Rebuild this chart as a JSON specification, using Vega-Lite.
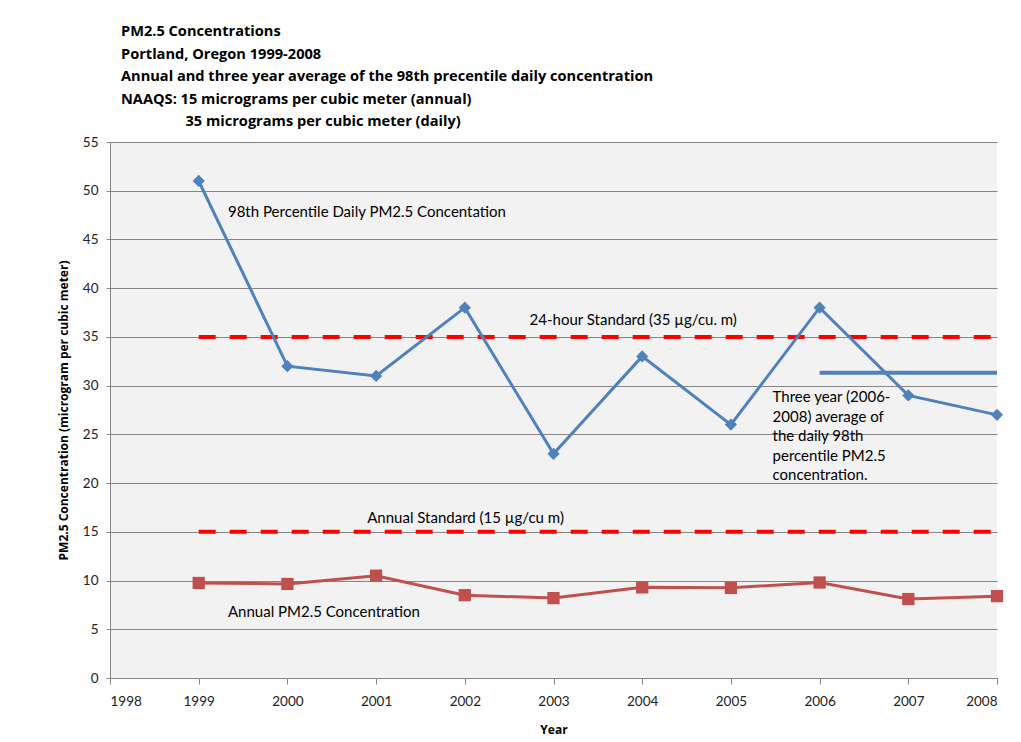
{
  "$schema": "https://vega.github.io/schema/vega-lite/v6.json",
  "autosize": {"type": "none"},
  "width": 887,
  "height": 536,
  "padding": {"left": 110, "top": 142, "right": 24, "bottom": 64},
  "background": "white",
  "title": {
    "text": [
      "PM2.5 Concentrations",
      "Portland, Oregon 1999-2008",
      "Annual and three year average of the 98th precentile daily concentration",
      "NAAQS: 15 micrograms per cubic meter (annual)",
      "\u200b\u00a0\u00a0\u00a0\u00a0\u00a0\u00a0\u00a0\u00a0\u00a0\u00a0\u00a0\u00a0\u00a0\u00a0\u00a0\u00a0\u00a035 micrograms per cubic meter (daily)"
    ],
    "anchor": "start",
    "frame": "group",
    "dx": 11,
    "offset": 6,
    "font": "Open Sans",
    "fontSize": 14.6,
    "fontWeight": "bold",
    "lineHeight": 22.5,
    "color": "black"
  },
  "datasets": {
    "series": [
      {"year": 1999, "daily98": 51, "annual": 9.75},
      {"year": 2000, "daily98": 32, "annual": 9.65},
      {"year": 2001, "daily98": 31, "annual": 10.5},
      {"year": 2002, "daily98": 38, "annual": 8.5},
      {"year": 2003, "daily98": 23, "annual": 8.2},
      {"year": 2004, "daily98": 33, "annual": 9.3},
      {"year": 2005, "daily98": 26, "annual": 9.25},
      {"year": 2006, "daily98": 38, "annual": 9.8},
      {"year": 2007, "daily98": 29, "annual": 8.1},
      {"year": 2008, "daily98": 27, "annual": 8.4}
    ],
    "standards": [
      {"name": "24-hour", "value": 35, "start": 1999, "end": 2008},
      {"name": "annual", "value": 15, "start": 1999, "end": 2008}
    ],
    "average": [
      {"start": 2006, "end": 2008, "value": 31.33}
    ],
    "notes": [
      {"label": "98th Percentile Daily PM2.5 Concentation", "x": 1999.33, "y": 47.8},
      {"label": "24-hour Standard (35 \u00b5g/cu. m)", "x": 2002.73, "y": 36.7},
      {"label": "Annual Standard (15 \u00b5g/cu m)", "x": 2000.9, "y": 16.4},
      {"label": "Annual PM2.5 Concentration", "x": 1999.33, "y": 6.8}
    ],
    "avgNote": [
      {"label": "Three year (2006-\n2008) average of\nthe daily 98th\npercentile PM2.5\nconcentration.", "x": 2005.47, "y": 29.55}
    ]
  },
  "config": {
    "view": {"fill": "#f2f2f2", "stroke": null},
    "font": "Lato",
    "axis": {
      "labelFont": "Lato",
      "labelFontSize": 13.5,
      "labelColor": "#222222",
      "titleFont": "Open Sans",
      "titleFontSize": 12,
      "titleFontWeight": "bold",
      "titleColor": "black",
      "domainColor": "#868686",
      "tickColor": "#868686",
      "gridColor": "#868686",
      "gridWidth": 1
    }
  },
  "encoding": {
    "x": {
      "type": "quantitative",
      "scale": {"domain": [1998, 2008], "nice": false, "zero": false},
      "axis": {
        "title": "Year",
        "format": "d",
        "values": [1998, 1999, 2000, 2001, 2002, 2003, 2004, 2005, 2006, 2007, 2008],
        "grid": false,
        "tickSize": 6,
        "labelPadding": 10,
        "titlePadding": 17
      }
    },
    "y": {
      "type": "quantitative",
      "scale": {"domain": [0, 55], "nice": false},
      "axis": {
        "title": "PM2.5 Concentration (microgram per cubic meter)",
        "values": [0, 5, 10, 15, 20, 25, 30, 35, 40, 45, 50, 55],
        "grid": true,
        "tickSize": 4,
        "labelPadding": 8,
        "titlePadding": 12
      }
    }
  },
  "layer": [
    {
      "data": {"name": "standards"},
      "mark": {"type": "rule", "color": "#ff0000", "strokeWidth": 4, "strokeDash": [17, 14]},
      "encoding": {
        "x": {"field": "start"},
        "x2": {"field": "end"},
        "y": {"field": "value"}
      }
    },
    {
      "data": {"name": "series"},
      "mark": {"type": "line", "color": "#4f81bd", "strokeWidth": 3,
               "point": {"shape": "diamond", "size": 150, "filled": true, "color": "#4f81bd", "opacity": 1}},
      "encoding": {
        "x": {"field": "year"},
        "y": {"field": "daily98"}
      }
    },
    {
      "data": {"name": "series"},
      "mark": {"type": "line", "color": "#c0504d", "strokeWidth": 3,
               "point": {"shape": "square", "size": 150, "filled": true, "color": "#c0504d", "opacity": 1}},
      "encoding": {
        "x": {"field": "year"},
        "y": {"field": "annual"}
      }
    },
    {
      "data": {"name": "average"},
      "mark": {"type": "rule", "color": "#4f81bd", "strokeWidth": 4},
      "encoding": {
        "x": {"field": "start"},
        "x2": {"field": "end"},
        "y": {"field": "value"}
      }
    },
    {
      "data": {"name": "notes"},
      "mark": {"type": "text", "align": "left", "baseline": "middle", "font": "Lato", "fontSize": 15, "color": "black"},
      "encoding": {
        "x": {"field": "x"},
        "y": {"field": "y"},
        "text": {"field": "label"}
      }
    },
    {
      "data": {"name": "avgNote"},
      "mark": {"type": "text", "align": "left", "baseline": "top", "font": "Lato", "fontSize": 15, "color": "black", "lineBreak": "\n", "lineHeight": 19.5},
      "encoding": {
        "x": {"field": "x"},
        "y": {"field": "y"},
        "text": {"field": "label"}
      }
    }
  ]
}
